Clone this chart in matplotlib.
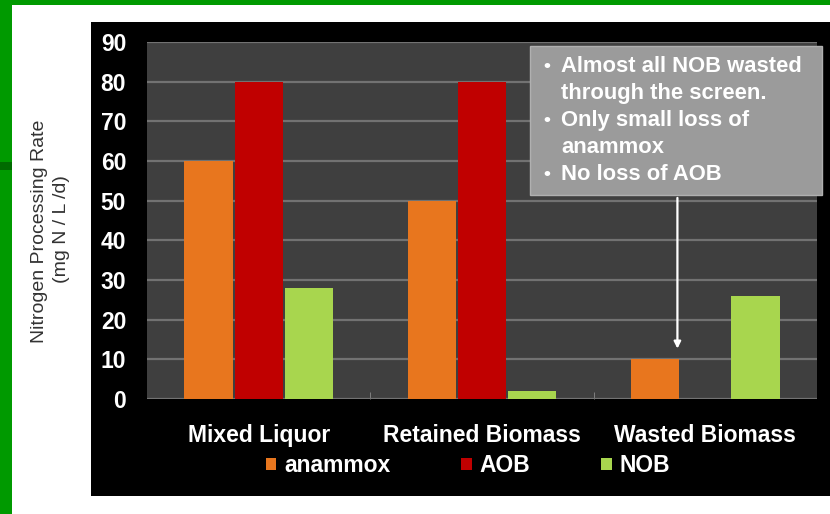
import numpy as np
import matplotlib
matplotlib.use('Agg')
import matplotlib.pyplot as plt
from matplotlib.patches import Rectangle

plt.rcParams['font.family'] = ['Liberation Sans', 'DejaVu Sans']

# data
categories = ['Mixed Liquor', 'Retained Biomass', 'Wasted Biomass']
series = ['anammox', 'AOB', 'NOB']
anammox = [60, 50, 10]
aob = [80, 80, 0]
nob = [28, 2, 26]
yticks = [0, 10, 20, 30, 40, 50, 60, 70, 80, 90]
note_lines = ['Almost all NOB wasted', 'through the screen.', 'Only small loss of',
              'anammox', 'No loss of AOB']
note_bullets = [True, False, True, False, True]

colors = ['#E8761E', '#C00000', '#A8D64E']
W, H = 830, 514

fig = plt.figure(figsize=(8.3, 5.14), dpi=100, facecolor='#009a00')
# slide panel + black chart area
fig.patches.append(Rectangle((12 / W, 0), 1, (H - 5) / H, transform=fig.transFigure,
                             facecolor='white', edgecolor='none', zorder=-3))
fig.patches.append(Rectangle((0, (H - 170) / H), 12 / W, 8 / H, transform=fig.transFigure,
                             facecolor='#006b00', edgecolor='none', zorder=-3))
fig.patches.append(Rectangle((91 / W, (H - 496) / H), (W - 91) / W, (496 - 22) / H,
                             transform=fig.transFigure, facecolor='black',
                             edgecolor='none', zorder=-2))

ax = fig.add_axes([147 / W, (H - 399) / H, (817 - 147) / W, (399 - 42) / H])
ax.set_facecolor('#3f3f3f')

x = np.arange(len(categories))
bw = 0.216
step = 0.225
for i, (name, vals) in enumerate(zip(series, [anammox, aob, nob])):
    ax.bar(x + (i - 1) * step, vals, bw, color=colors[i], label=name, zorder=3)

ax.set_xlim(-0.5, 2.5)
ax.set_ylim(0, 90)
ax.set_yticks(yticks)
ax.yaxis.grid(True, color='#727272', lw=1.6, zorder=1)
ax.set_axisbelow(True)
for s in ax.spines.values():
    s.set_visible(False)

ax.set_xticks(x)
ax.set_xticklabels(categories)
ax.set_xticks([0.5, 1.5], minor=True)
ax.tick_params(axis='x', which='major', length=0, pad=18, labelsize=16.5, labelcolor='white')
ax.tick_params(axis='x', which='minor', length=5, direction='in', color='#8a8a8a')
ax.tick_params(axis='y', length=0, pad=15, labelsize=16.5, labelcolor='white')
for t in ax.get_xticklabels() + ax.get_yticklabels():
    t.set_fontweight('bold')

# y label on the white panel
fig.text(40 / W, (H - 231) / H, 'Nitrogen Processing Rate', rotation=90,
         ha='center', va='center', fontsize=14, color='#333333')
fig.text(62 / W, (H - 229) / H, '(mg N / L /d)', rotation=90,
         ha='center', va='center', fontsize=14, color='#333333')

# legend
leg = fig.legend(loc='center', bbox_to_anchor=(468 / W, (H - 466) / H), ncol=3,
                 frameon=False, handlelength=0.45, handleheight=0.45, handletextpad=0.35,
                 columnspacing=3.1, prop={'size': 16.5, 'weight': 'bold'})
for t in leg.get_texts():
    t.set_color('white')

# note box with arrow
fig.patches.append(Rectangle((530 / W, (H - 195) / H), (822 - 530) / W, (195 - 46) / H,
                             transform=fig.transFigure, facecolor='#9b9b9b',
                             edgecolor='#b0b0b0', lw=1, zorder=5))
for k, (line, b) in enumerate(zip(note_lines, note_bullets)):
    yy = (H - (67 + 26.8 * k)) / H
    if b:
        fig.text(543 / W, yy, '\u2022', color='white', fontsize=14, fontweight='bold',
                 ha='left', va='center', zorder=6)
    fig.text(561 / W, yy, line, color='white', fontsize=15.8, fontweight='bold',
             ha='left', va='center', zorder=6)

ax.annotate('', xy=(1.875, 12), xytext=(1.875, 51.4),
            arrowprops=dict(arrowstyle='-|>', color='white', lw=1.6, mutation_scale=10),
            zorder=6)

fig.savefig('out.png', dpi=100, facecolor=fig.get_facecolor())
